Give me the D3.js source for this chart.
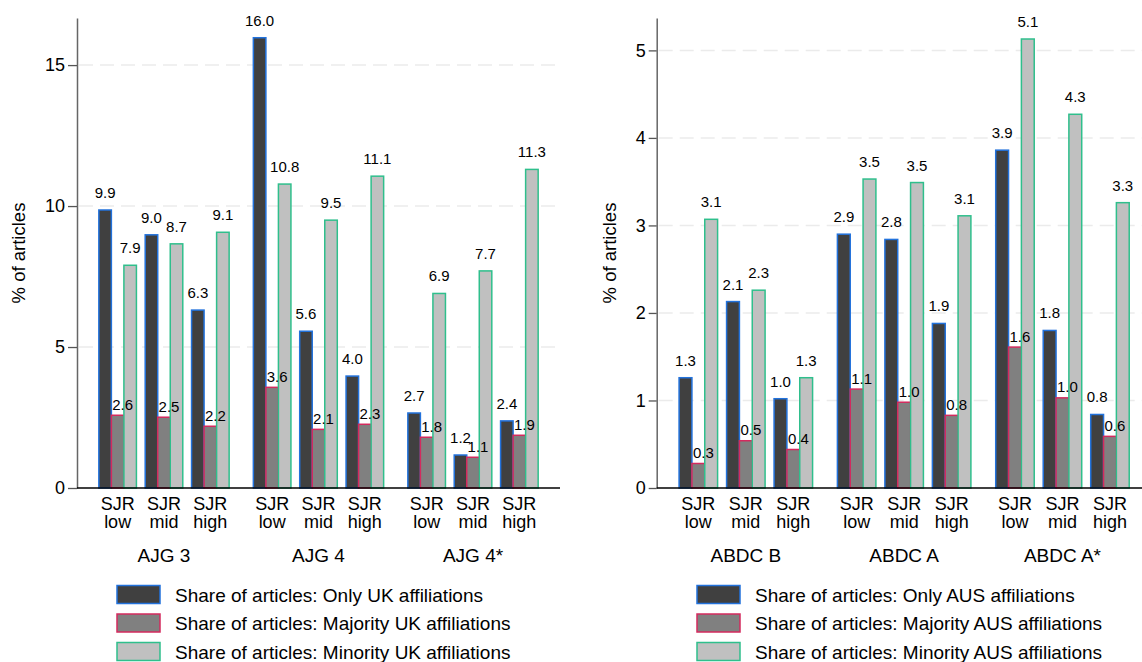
<!DOCTYPE html>
<html>
<head>
<meta charset="utf-8">
<script src="https://cdn.jsdelivr.net/npm/d3@7"></script>
<style>
  body { margin: 0; background: #fff; }
  text { font-family: "Liberation Sans", Arial, Helvetica, sans-serif; fill: #000; }
</style>
</head>
<body>
<div id="chart"></div>
<script>
// categories
const subcats = ["SJR low", "SJR mid", "SJR high"];
const ukGroups = ["AJG 3", "AJG 4", "AJG 4*"];
const ausGroups = ["ABDC B", "ABDC A", "ABDC A*"];

const ukSeries = [
  "Share of articles: Only UK affiliations",
  "Share of articles: Majority UK affiliations",
  "Share of articles: Minority UK affiliations"
];
const ausSeries = [
  "Share of articles: Only AUS affiliations",
  "Share of articles: Majority AUS affiliations",
  "Share of articles: Minority AUS affiliations"
];

// values in % of articles, group by group (SJR low, mid, high)
const ukOnly     = [9.86, 8.98, 6.31, 15.97, 5.56, 3.97, 2.66, 1.17, 2.38];
const ukMajority = [2.58, 2.51, 2.19, 3.57, 2.08, 2.26, 1.80, 1.09, 1.87];
const ukMinority = [7.90, 8.66, 9.07, 10.78, 9.50, 11.06, 6.90, 7.70, 11.30];

const ausOnly     = [1.26, 2.13, 1.02, 2.90, 2.84, 1.88, 3.86, 1.80, 0.84];
const ausMajority = [0.28, 0.54, 0.44, 1.13, 0.98, 0.83, 1.61, 1.03, 0.59];
const ausMinority = [3.07, 2.26, 1.26, 3.53, 3.49, 3.11, 5.13, 4.27, 3.26];

const ukTicks = [0, 5, 10, 15];
const ausTicks = [0, 1, 2, 3, 4, 5];

const W = 1142, H = 662;
const baseY = 488, topY = 18;
const fills = ["#404040", "#808080", "#c0c0c0"];
const strokes = ["#2272dc", "#d42a5e", "#2fbf8c"];
// label offsets per series (dx, gap above bar top)
const labDx = [0, 5, 0];
const labGap = [12, 5.5, 12];
const fmt = d3.format(".1f");

const svg = d3.select("#chart").append("svg")
    .attr("width", W)
    .attr("height", H);

function drawPanel(p) {
  const g = svg.append("g");

  const y = d3.scaleLinear().domain([0, p.yMax]).range([baseY, topY]);

  const x0 = d3.scaleBand().domain(p.groups).range([p.left, p.right])
      .paddingInner(0.1).paddingOuter(0.113);
  const x1 = d3.scaleBand().domain(subcats).range([0, x0.bandwidth()]);
  const x2 = d3.scaleBand().domain([0, 1, 2]).range([0, x1.bandwidth()])
      .paddingOuter(0.35);

  // dashed gridlines
  g.append("g")
    .selectAll("line")
    .data(p.ticks.filter(t => t > 0))
    .enter().append("line")
      .attr("x1", p.left + 2)
      .attr("x2", p.gridEnd)
      .attr("y1", d => y(d))
      .attr("y2", d => y(d))
      .attr("stroke", "#ebebeb")
      .attr("stroke-width", 1.5)
      .attr("stroke-dasharray", "14,7");

  // y axis
  const yAxis = g.append("g")
    .attr("transform", "translate(" + p.left + ",0)")
    .call(d3.axisLeft(y).tickValues(p.ticks).tickFormat(d3.format("d"))
      .tickSize(p.tickLen).tickSizeOuter(0).tickPadding(3));
  yAxis.select(".domain").attr("stroke", "#666").attr("stroke-width", 1.5);
  yAxis.selectAll(".tick line").attr("stroke", "#555").attr("stroke-width", 1.3);
  yAxis.selectAll(".tick text")
    .style("font-family", '"Liberation Sans", Arial, sans-serif')
    .style("font-size", "18px")
    .attr("fill", "#000");

  // bars
  const rows = [];
  p.groups.forEach((grp, gi) => {
    subcats.forEach((sc, si) => {
      p.values.forEach((vals, k) => {
        rows.push({grp: grp, sub: sc, k: k, v: vals[gi * 3 + si]});
      });
    });
  });

  const bx = d => x0(d.grp) + x1(d.sub) + x2(d.k);

  g.append("g")
    .selectAll("rect")
    .data(rows)
    .enter().append("rect")
      .attr("x", d => bx(d))
      .attr("y", d => y(d.v))
      .attr("width", x2.bandwidth())
      .attr("height", d => baseY - y(d.v))
      .attr("fill", d => fills[d.k])
      .attr("stroke", d => strokes[d.k])
      .attr("stroke-width", 1.5);

  // value labels
  g.append("g")
    .selectAll("text")
    .data(rows)
    .enter().append("text")
      .attr("x", d => bx(d) + x2.bandwidth() / 2 + labDx[d.k])
      .attr("y", d => y(d.v) - labGap[d.k])
      .attr("text-anchor", "middle")
      .style("font-size", "15px")
      .text(d => fmt(d.v));

  // baseline
  g.append("line")
    .attr("x1", p.left)
    .attr("x2", p.right)
    .attr("y1", baseY)
    .attr("y2", baseY)
    .attr("stroke", "#000")
    .attr("stroke-width", 1.5);

  // subcategory labels (two lines)
  p.groups.forEach(grp => {
    subcats.forEach(sc => {
      const words = sc.split(" ");
      const t = g.append("text")
        .attr("text-anchor", "middle")
        .style("font-size", "18px");
      words.forEach((w, i) => {
        t.append("tspan")
          .attr("x", x0(grp) + x1(sc) + x1.bandwidth() / 2)
          .attr("y", 510 + i * 18)
          .text(w);
      });
    });
    g.append("text")
      .attr("x", x0(grp) + x0.bandwidth() / 2)
      .attr("y", 562)
      .attr("text-anchor", "middle")
      .style("font-size", "19px")
      .text(grp);
  });

  // y title
  g.append("text")
    .attr("transform", "translate(" + p.titleX + "," + (topY + baseY) / 2 + ") rotate(-90)")
    .attr("text-anchor", "middle")
    .style("font-size", "18.5px")
    .text("% of articles");

  // legend
  const leg = g.append("g");
  p.series.forEach((s, k) => {
    const cy = 594.5 + k * 28.5;
    leg.append("rect")
      .attr("x", p.legendX)
      .attr("y", cy - 9)
      .attr("width", 43)
      .attr("height", 18)
      .attr("fill", fills[k])
      .attr("stroke", strokes[k])
      .attr("stroke-width", 1.5);
    leg.append("text")
      .attr("x", p.legendX + 58)
      .attr("y", cy + 7)
      .style("font-size", "19px")
      .text(s);
  });
}

drawPanel({
  left: 77, right: 560, gridEnd: 560, yMax: 16.67, tickLen: 9,
  ticks: ukTicks, groups: ukGroups, series: ukSeries,
  values: [ukOnly, ukMajority, ukMinority],
  titleX: 25, legendX: 117
});

drawPanel({
  left: 656.7, right: 1151.6, gridEnd: 1142, yMax: 5.37, tickLen: 8,
  ticks: ausTicks, groups: ausGroups, series: ausSeries,
  values: [ausOnly, ausMajority, ausMinority],
  titleX: 616, legendX: 697
});
</script>
</body>
</html>
